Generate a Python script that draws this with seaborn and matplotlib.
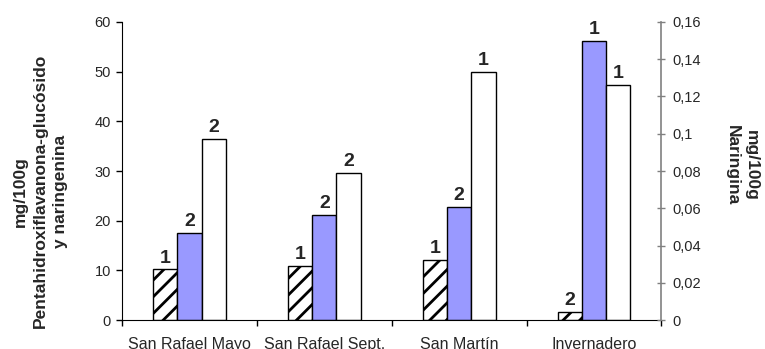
import matplotlib
matplotlib.use("Agg")
import matplotlib.pyplot as plt
from matplotlib.ticker import FuncFormatter
import seaborn as sns
import pandas as pd

sites = ["San Rafael Mayo", "San Rafael Sept.", "San Martín", "Invernadero"]
series = ["Pentahidroxiflavanona-glucósido", "Naringenina", "Naringina"]
# values read on the left (mg/100g) scale
pentahidroxi = [10.2, 10.9, 12.1, 1.7]
naringenina = [17.5, 21.2, 22.8, 56.2]
naringina = [36.4, 29.7, 49.9, 47.4]
# group letters above each bar
lab_pentahidroxi = ["1", "1", "1", "2"]
lab_naringenina = ["2", "2", "2", "1"]
lab_naringina = ["2", "2", "1", "1"]
left_ticks = [0, 10, 20, 30, 40, 50, 60]
right_ticks = [0, 0.02, 0.04, 0.06, 0.08, 0.1, 0.12, 0.14, 0.16]

df = pd.DataFrame({
    "sitio": sites * 3,
    "serie": [series[0]] * 4 + [series[1]] * 4 + [series[2]] * 4,
    "valor": pentahidroxi + naringenina + naringina,
})

sns.set_style("ticks")
plt.rcParams["font.family"] = ["Liberation Sans", "DejaVu Sans"]
plt.rcParams["hatch.linewidth"] = 2.0

fig = plt.figure(figsize=(7.65, 3.49), dpi=100)
ax = fig.add_axes([0.1595, 0.083, 0.705, 0.854])

sns.barplot(data=df, x="sitio", y="valor", hue="serie", order=sites,
            hue_order=series, palette=["white", "#9999FF", "white"],
            saturation=1, width=0.54, gap=0, edgecolor="black", linewidth=1.0,
            legend=False, errorbar=None, ax=ax)

for bar in ax.containers[0]:
    bar.set_hatch("//")

for cont, labs in zip(ax.containers, [lab_pentahidroxi, lab_naringenina, lab_naringina]):
    ax.bar_label(cont, labels=labs, fontsize=14, fontweight="bold", padding=2)

ax.set_ylim(0, 60)
ax.set_yticks(left_ticks)
ax.set_xlim(-0.5, 3.5)
ax.set_xticks([-0.5, 0.5, 1.5, 2.5, 3.5])
ax.set_xticklabels([])
ax.set_xticks(range(len(sites)), minor=True)
ax.set_xticklabels(sites, minor=True)
ax.tick_params(axis="x", which="major", length=4, width=1, color="black")
ax.tick_params(axis="x", which="minor", length=0, pad=12, labelsize=11.5)
ax.tick_params(axis="y", length=4, width=1, color="black", labelsize=10.5, pad=4)
ax.set_xlabel("")
ax.set_ylabel("")
for s in ["top", "right"]:
    ax.spines[s].set_visible(False)
ax.spines["left"].set_color("black")
ax.spines["bottom"].set_color("black")

ax2 = ax.twinx()
ax2.set_ylim(0, 0.16)
ax2.set_yticks(right_ticks)
ax2.yaxis.set_major_formatter(FuncFormatter(lambda v, p: f"{v:g}".replace(".", ",")))
ax2.tick_params(axis="y", direction="inout", length=6, width=1, color="#808080",
                labelsize=10.5, pad=5)
for s in ["top", "left", "bottom"]:
    ax2.spines[s].set_visible(False)
ax2.spines["right"].set_color("#808080")
ax2.spines["right"].set_linewidth(1.2)

fig.text(0.053, 0.452, "mg/100g\nPentahidroxiflavanona-glucósido\ny naringenina",
         rotation=90, ha="center", va="center", multialignment="center",
         fontsize=12.5, fontweight="bold", linespacing=1.4)
fig.text(0.970, 0.527, "mg/100g\nNaringina", rotation=270, ha="center", va="center",
         multialignment="center", fontsize=12.5, fontweight="bold", linespacing=1.3)

fig.savefig("out.png", dpi=100)
